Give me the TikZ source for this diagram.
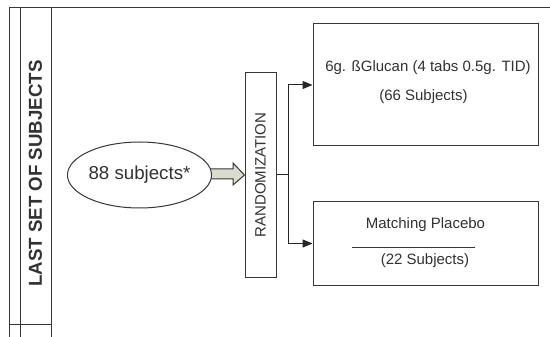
\documentclass[tikz,border=0pt]{standalone}
\usepackage{fontspec}
\setmainfont{Liberation Sans}
\usetikzlibrary{arrows.meta,calc,shapes.geometric}
\definecolor{ink}{RGB}{55,55,55}
\definecolor{txt}{RGB}{50,50,50}
\definecolor{arrfill}{RGB}{218,221,205}
\tikzset{
  frameline/.style={draw=ink,line width=0.8pt},
  boxstyle/.style={draw=ink,line width=1pt,fill=white,inner sep=0pt},
  ell/.style={ellipse,draw=ink,line width=1pt,fill=white,inner sep=0pt,
    minimum width=135pt,minimum height=66pt,text=txt,
    font=\fontsize{18.7}{22}\selectfont},
  lbl/.style={text=txt,inner sep=0pt,font=\fontsize{15}{18}\selectfont},
  conn/.style={draw=black!85,line width=1pt},
  arr/.style={conn,-{Triangle[length=10pt,width=8pt]}},
  blockarrow/.style={draw=ink,line width=1pt,fill=arrfill,line join=miter}
}
\begin{document}
\begin{tikzpicture}[x=1pt,y=-1pt]
\useasboundingbox (0,0) rectangle (550,337);
\fill[white] (0,0) rectangle (550,337);
% frame
\draw[frameline] (9.5,337) -- (9.5,7) -- (550,7);
\draw[frameline] (20.5,7) -- (20.5,337);
\draw[frameline] (51,7) -- (51,337);
\draw[frameline] (9.5,324) -- (51,324);
\node[text=txt,inner sep=0pt,font=\bfseries\fontsize{18.7}{22}\selectfont] (title) at (35.5,173.5) {\rotatebox{90}{LAST SET OF SUBJECTS}};
% nodes
\node[boxstyle,minimum width=31pt,minimum height=204pt] (rand) at (260.5,175) {};
\node[lbl] (randtxt) at (rand.center) {\rotatebox{90}{RANDOMIZATION}};
\node[boxstyle,minimum width=225pt,minimum height=122pt] (box1) at (425.5,85) {};
\node[boxstyle,minimum width=225pt,minimum height=83pt] (box2) at (425.5,243.5) {};
% block arrow
\draw[blockarrow] (200,169) -- (233,169) -- (233,163) -- (rand.west) -- (233,185) -- (233,179) -- (200,179) -- cycle;
\node[ell] (subj) at (139.5,175) {88 subjects*};
% connectors
\draw[conn] (rand.east) -- ++(12,0) coordinate (j);
\draw[arr] (j) |- (box1.west);
\draw[arr] (j) |- (box2.west);
% box texts
\node[lbl] (t1) at (428,68) {6g. ßGlucan (4 tabs 0.5g. TID)};
\node[lbl] (t2) at (423.5,97) {(66 Subjects)};
\node[lbl] (t3) at (425.5,225) {Matching Placebo};
\node[lbl] (t4) at (425,261) {(22 Subjects)};
\coordinate (r1) at (352,247);
\coordinate (r2) at (475,247);
\draw[draw=ink,line width=0.9pt] (r1) -- (r2);
\end{tikzpicture}
\end{document}
